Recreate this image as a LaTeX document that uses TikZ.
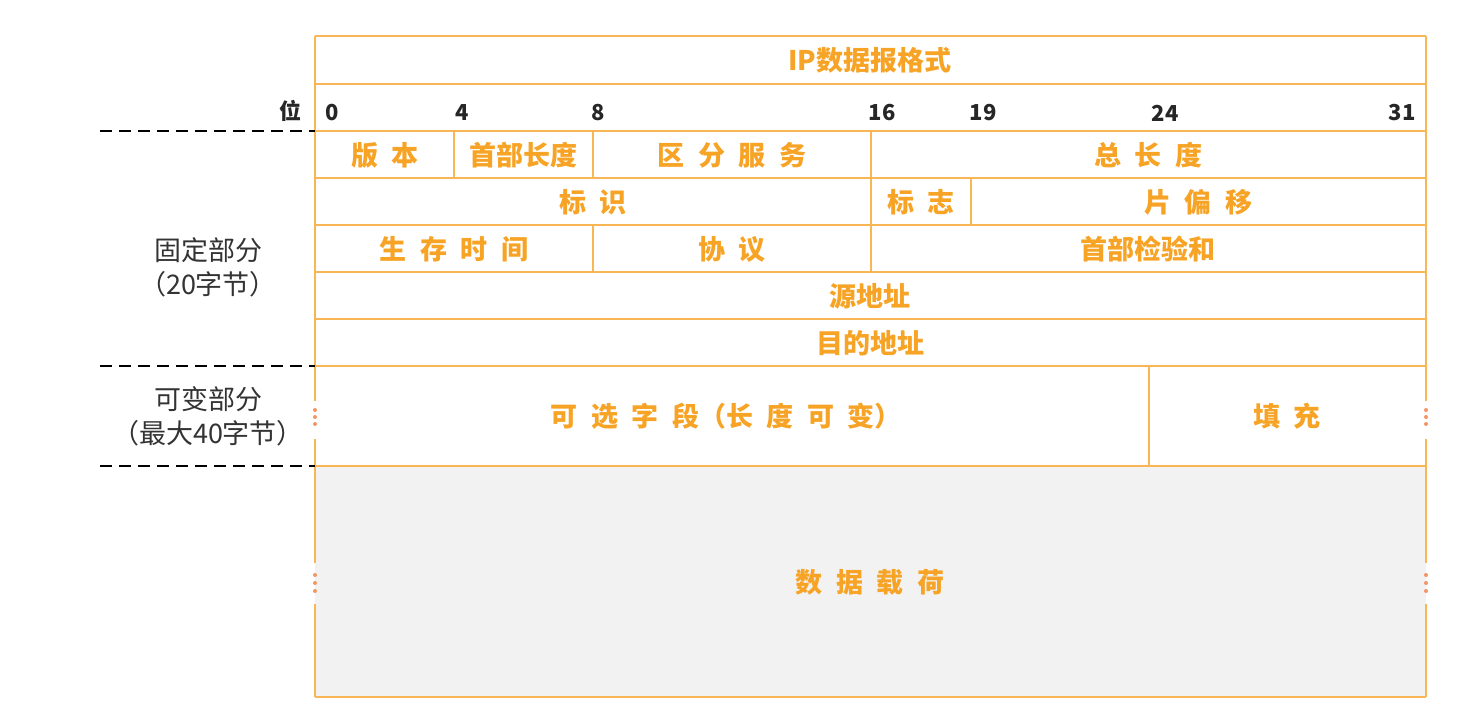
\documentclass[tikz,border=0pt]{standalone}
\usepackage{fontspec}
\setmainfont{Noto Sans}
\newfontfamily\cjk{Noto Sans CJK SC}
\usetikzlibrary{positioning}

\definecolor{ipline}{RGB}{248,182,84}
\definecolor{iptext}{RGB}{246,163,38}
\definecolor{ipdot}{RGB}{244,150,100}
\definecolor{ipfill}{RGB}{242,242,242}

\newcommand\fieldfont{\cjk\bfseries\fontsize{13.5}{15}\selectfont\setlength{\spaceskip}{0.5em}}

\begin{document}
\begin{tikzpicture}[
    x=0.5pt, y=-0.5pt,
    field/.style={
      font=\fieldfont,
      text=iptext,
      inner sep=0pt
    },
    bitnum/.style={
      font=\cjk\bfseries\fontsize{11}{13}\selectfont,
      text=black!85,
      inner sep=0pt
    },
    side/.style={
      font=\cjk\fontsize{13.5}{17}\selectfont,
      text=black!80,
      align=center,
      inner sep=0pt
    },
    grid/.style={draw=ipline, line width=1pt},
    part/.style={draw=black, line width=1.1pt, dash pattern=on 6pt off 3.5pt}
  ]
    \useasboundingbox (0,0) rectangle (1476,724);

    % payload background
    \fill[ipfill] (315,466) rectangle (1426,697);

    % rows
    \foreach \y in {36,84,131,178,225,272,319,366,466,697}
      \draw[grid] (315,\y) -- (1426,\y);

    % outer edges, broken at the variable rows
    \foreach \x in {315,1426} {
      \draw[grid] (\x,36) -- (\x,401);
      \draw[grid] (\x,439) -- (\x,563);
      \draw[grid] (\x,604) -- (\x,697);
      \foreach \y in {410,417,424,575,583,591}
        \fill[ipdot] (\x,\y) circle (2);
    }

    % field dividers
    \draw[grid] (454,131) -- (454,178);
    \draw[grid] (593,131) -- (593,178);
    \draw[grid] (871,131) -- (871,272);
    \draw[grid] (971,178) -- (971,225);
    \draw[grid] (593,225) -- (593,272);
    \draw[grid] (1149,366) -- (1149,466);

    % bit positions
    \node[bitnum] (wei) at (290,111) {位};
    \node[bitnum] (b0) at (332,113) {0};
    \node[bitnum] (b4) at (462,113) {4};
    \node[bitnum] (b8) at (598,113) {8};
    \node[bitnum] (b16) at (882,113) {16};
    \node[bitnum] (b19) at (983,113) {19};
    \node[bitnum] (b24) at (1165,113) {24};
    \node[bitnum] (b31) at (1402,113) {31};

    % fields
    \node[field] (title) at (870,60) {IP数据报格式};
    \node[field] (ver) at (385,155) {版 本};
    \node[field] (ihl) at (523,155) {首部长度};
    \node[field] (tos) at (732,155) {区 分 服 务};
    \node[field] (len) at (1148,155) {总 长 度};
    \node[field] (ident) at (593,202) {标 识};
    \node[field] (flags) at (921,202) {标 志};
    \node[field] (frag) at (1198,202) {片 偏 移};
    \node[field] (ttl) at (454,249) {生 存 时 间};
    \node[field] (proto) at (732,249) {协 议};
    \node[field] (csum) at (1148,249) {首部检验和};
    \node[field] (src) at (870,296) {源地址};
    \node[field] (dst) at (870,343) {目的地址};
    \node[field] (opts) at (726,416) {可 选 字 段（长 度 可 变）};
    \node[field] (pad) at (1287,416) {填 充};
    \node[field] (data) at (870,582) {数 据 载 荷};

    % header parts
    \coordinate (fixtop) at (100,131);
    \coordinate (fixend) at (100,366);
    \coordinate (varend) at (100,466);
    \draw[part] (fixtop) -- (315,131);
    \draw[part] (fixend) -- (315,366);
    \draw[part] (varend) -- (315,466);
    \node[side] (fixed) at (208,267) {固定部分\\（20字节）};
    \node[side] (vari) at (208,416) {可变部分\\（最大40字节）};
  \end{tikzpicture}
\end{document}
